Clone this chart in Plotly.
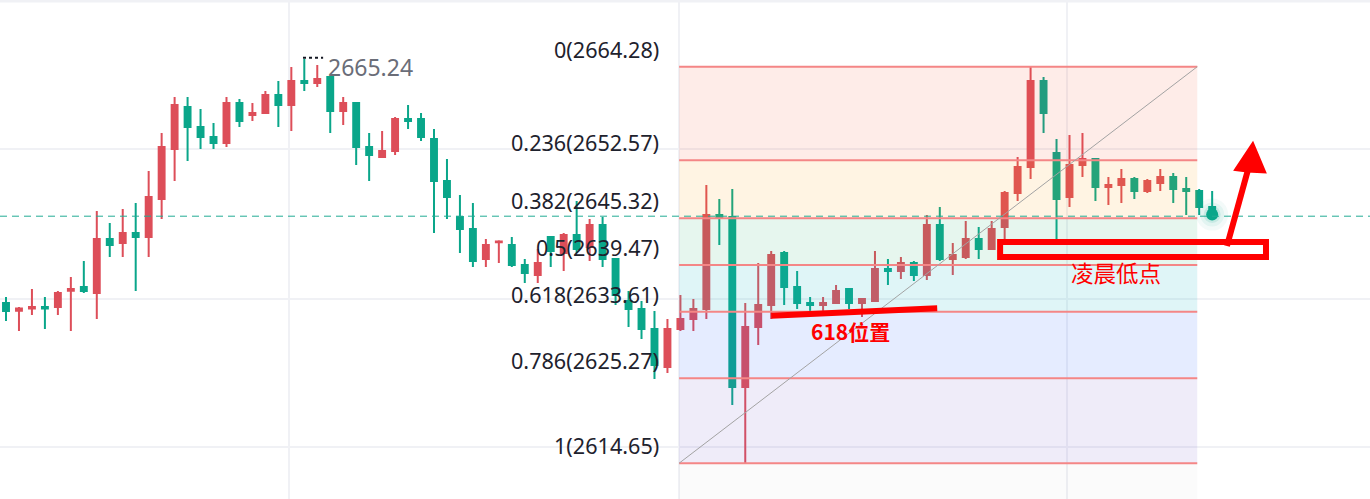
import plotly.graph_objects as go

# ---------------- data ----------------
opens = [2634.71, 2633.74, 2634.00, 2634.21, 2634.21, 2636.25, 2636.71, 2635.96, 2642.72, 2642.22,
         2643.47, 2642.97, 2647.73, 2653.98, 2659.24, 2656.73, 2655.48, 2654.73, 2659.74, 2658.24,
         2658.49, 2660.74, 2659.49, 2662.49, 2662.24, 2662.99, 2658.74, 2659.74, 2654.23, 2652.98,
         2653.73, 2657.74, 2657.74, 2655.23, 2649.98, 2645.47, 2643.97, 2640.22, 2642.30, 2641.97,
         2639.47, 2638.22, 2642.97, 2640.97, 2643.22, 2641.72, 2644.47, 2640.22, 2634.96, 2633.96,
         2631.45, 2626.70, 2631.45, 2632.70, 2633.96, 2645.72, 2645.47, 2624.19, 2631.70, 2634.46,
         2640.97, 2636.71, 2634.71, 2634.46, 2634.71, 2636.46, 2634.71, 2634.96, 2638.97, 2638.72,
         2639.72, 2638.22, 2644.47, 2640.22, 2640.47, 2642.72, 2641.47, 2644.22, 2648.48, 2651.73,
         2662.49, 2653.48, 2647.98, 2651.98, 2652.73, 2649.23, 2649.48, 2650.23, 2648.73, 2649.73,
         2650.48, 2648.98, 2648.73, 2646.72]
highs = [2635.46, 2634.21, 2636.46, 2635.46, 2636.21, 2637.97, 2639.97, 2646.22, 2644.72, 2646.47,
         2647.22, 2651.23, 2655.98, 2660.49, 2660.49, 2658.99, 2657.24, 2660.49, 2660.24, 2659.74,
         2661.24, 2662.49, 2664.24, 2665.24, 2664.49, 2662.99, 2660.49, 2659.74, 2655.98, 2656.23,
         2657.99, 2659.49, 2658.49, 2656.48, 2652.73, 2648.23, 2647.22, 2642.72, 2642.55, 2642.97,
         2640.22, 2641.47, 2642.97, 2643.47, 2647.47, 2645.22, 2645.47, 2640.22, 2636.21, 2634.96,
         2633.70, 2632.70, 2635.71, 2635.21, 2649.48, 2647.73, 2648.98, 2634.71, 2639.72, 2641.22,
         2641.22, 2638.72, 2635.46, 2635.46, 2636.96, 2636.46, 2635.21, 2641.22, 2640.22, 2640.47,
         2639.97, 2645.72, 2646.72, 2642.22, 2644.97, 2644.22, 2644.97, 2648.73, 2652.98, 2664.28,
         2662.99, 2655.23, 2655.73, 2655.98, 2652.73, 2650.48, 2651.48, 2650.48, 2650.23, 2651.48,
         2650.98, 2650.48, 2648.98, 2648.73]
lows = [2632.45, 2631.20, 2633.20, 2631.45, 2633.20, 2631.20, 2635.96, 2632.70, 2640.47, 2640.47,
        2636.21, 2640.47, 2645.22, 2649.98, 2652.48, 2653.98, 2653.98, 2654.23, 2656.73, 2657.49,
        2658.49, 2656.73, 2656.23, 2661.24, 2661.74, 2655.98, 2656.99, 2651.98, 2649.98, 2652.98,
        2653.23, 2656.48, 2654.98, 2643.47, 2645.22, 2640.97, 2639.22, 2639.22, 2639.72, 2639.22,
        2637.21, 2637.21, 2639.22, 2638.72, 2640.97, 2639.97, 2639.22, 2634.46, 2631.70, 2630.20,
        2625.20, 2625.95, 2631.20, 2631.20, 2632.70, 2641.97, 2621.94, 2614.65, 2629.45, 2632.70,
        2634.46, 2633.96, 2633.70, 2633.70, 2634.71, 2633.96, 2632.95, 2634.96, 2636.96, 2637.72,
        2637.46, 2637.59, 2639.97, 2638.22, 2640.22, 2640.22, 2641.47, 2642.72, 2647.47, 2650.23,
        2655.98, 2642.72, 2646.72, 2650.48, 2647.47, 2646.97, 2647.22, 2647.73, 2648.48, 2648.73,
        2647.22, 2645.72, 2645.72, 2645.22]
closes = [2633.70, 2634.00, 2634.21, 2634.00, 2635.96, 2636.46, 2636.21, 2642.72, 2641.97, 2643.47,
          2642.97, 2647.98, 2654.23, 2659.49, 2656.73, 2655.48, 2654.73, 2659.74, 2657.49, 2658.49,
          2660.74, 2659.49, 2662.49, 2662.24, 2662.74, 2658.74, 2659.74, 2654.23, 2653.23, 2653.73,
          2657.74, 2657.49, 2655.48, 2649.98, 2647.98, 2643.97, 2639.97, 2641.97, 2642.40, 2639.47,
          2638.47, 2639.72, 2641.22, 2643.22, 2641.47, 2644.47, 2640.22, 2635.71, 2633.96, 2631.45,
          2626.95, 2631.45, 2632.70, 2633.96, 2645.72, 2645.47, 2624.19, 2631.70, 2634.46, 2640.72,
          2636.71, 2634.71, 2634.46, 2634.71, 2636.21, 2634.71, 2635.21, 2638.97, 2638.72, 2639.72,
          2638.22, 2644.47, 2640.22, 2640.72, 2642.72, 2641.47, 2643.97, 2648.48, 2651.73, 2662.49,
          2658.49, 2647.73, 2651.98, 2652.73, 2649.23, 2649.48, 2650.23, 2648.73, 2649.98, 2650.48,
          2648.98, 2648.73, 2646.72, 2645.47]

fib_high = 2664.28
fib_low = 2614.65
fib_levels = [0, 0.236, 0.382, 0.5, 0.618, 0.786, 1]
fib_extra_level = 1.618
fib_span = [51.9, 91.85]          # candle-index span of the fib drawing
peak_value = 2665.24
grid_x = [21.82, 51.89, 81.8]
grid_prices = [2653.92, 2635.24, 2616.65]

label_618 = "618位置"
label_low = "凌晨低点"

# ---------------- styles ----------------
UP = "#dd4e59"
DN = "#0aa68a"
FIB_LINE = "#f48686"
ZONE_COLORS = [
    "rgba(242,80,50,0.11)",
    "rgba(255,152,0,0.11)",
    "rgba(47,180,113,0.12)",
    "rgba(27,184,198,0.14)",
    "rgba(41,98,255,0.12)",
    "rgba(120,100,205,0.12)",
]

x = list(range(len(opens)))
fig = go.Figure()
fig.add_trace(go.Candlestick(
    x=x, open=opens, high=highs, low=lows, close=closes,
    increasing=dict(line=dict(color=UP, width=2), fillcolor=UP),
    decreasing=dict(line=dict(color=DN, width=2), fillcolor=DN),
    whiskerwidth=0, showlegend=False, hoverinfo="skip",
))

last_x = x[-1]
last_close = closes[-1]
# soft glow dot on the last candle
for sz, col in [(32, "rgba(10,166,138,0.05)"), (24, "rgba(10,166,138,0.07)"),
                (17, "rgba(10,166,138,0.12)"), (12, DN)]:
    fig.add_trace(go.Scatter(x=[last_x], y=[last_close + 0.3], mode="markers",
                             marker=dict(size=sz, color=col, line=dict(width=0)),
                             showlegend=False, hoverinfo="skip"))

rng = fib_high - fib_low
def lvl_price(l):
    return fib_high - l * rng

shapes = []
x0, x1 = fib_span
# zones
for i in range(len(fib_levels) - 1):
    shapes.append(dict(type="rect", xref="x", yref="y", x0=x0, x1=x1,
                       y0=lvl_price(fib_levels[i]), y1=lvl_price(fib_levels[i + 1]),
                       fillcolor=ZONE_COLORS[i], line=dict(width=0), layer="above"))
shapes.append(dict(type="rect", xref="x", yref="y", x0=x0, x1=x1,
                   y0=lvl_price(1), y1=lvl_price(fib_extra_level),
                   fillcolor="rgba(120,123,134,0.03)", line=dict(width=0), layer="above"))
# level lines
for l in fib_levels:
    shapes.append(dict(type="line", xref="x", yref="y", x0=x0, x1=x1,
                       y0=lvl_price(l), y1=lvl_price(l),
                       line=dict(color=FIB_LINE, width=2), layer="above"))
# diagonal
shapes.append(dict(type="line", xref="x", yref="y", x0=x0, x1=x1, y0=fib_low, y1=fib_high,
                   line=dict(color="#a3a3a3", width=1), layer="above"))
# current price dashed line
shapes.append(dict(type="line", xref="paper", yref="y", x0=0, x1=1, y0=last_close + 0.1, y1=last_close + 0.1,
                   line=dict(color="#22ab94", width=1, dash="7px,5px"), layer="above"))
# top border
shapes.append(dict(type="line", xref="paper", yref="paper", x0=0, x1=1, y0=0.998, y1=0.998,
                   line=dict(color="#f0f1f5", width=3), layer="above"))
# peak marker dotted line
peak_idx = highs.index(max(highs))
shapes.append(dict(type="line", xref="x", yref="y", x0=peak_idx - 0.1, x1=peak_idx + 1.45,
                   y0=peak_value + 0.15, y1=peak_value + 0.15,
                   line=dict(color="#131722", width=2, dash="dot"), layer="above"))
# hand-drawn red marks
shapes.append(dict(type="line", xref="x", yref="y", x0=59.0, x1=71.8, y0=2633.1, y1=2634.05,
                   line=dict(color="#ff0000", width=6), layer="above"))
shapes.append(dict(type="rect", xref="x", yref="y", x0=76.65, x1=97.15, y0=2640.47, y1=2642.35,
                   line=dict(color="#ff0000", width=6), fillcolor="rgba(0,0,0,0)", layer="above"))
shapes.append(dict(type="line", xref="x", yref="y", x0=94.14, x1=95.75, y0=2641.84, y1=2651.3,
                   line=dict(color="#ff0000", width=6), layer="above"))
shapes.append(dict(type="path", xref="x", yref="y",
                   path="M 96.14 2654.75 L 94.75 2651.35 L 95.7 2651.15 L 97.1 2651.05 Z",
                   fillcolor="#ff0000", line=dict(color="#ff0000", width=2), layer="above"))

annotations = []
for l in fib_levels:
    p = lvl_price(l)
    annotations.append(dict(x=50.5, y=p, xref="x", yref="y", text=f"{l:g}({p + 1e-9:.2f})",
                            showarrow=False, xanchor="right", yanchor="bottom", yshift=1,
                            font=dict(family="Noto Sans", size=21.6, color="#1e222d")))
annotations.append(dict(x=peak_idx + 1.65, y=peak_value, xref="x", yref="y", text=f"{peak_value:.2f}",
                        showarrow=False, xanchor="left", yanchor="middle", yshift=-8,
                        font=dict(family="Noto Sans", size=23, color="#6a6d78")))
annotations.append(dict(x=65.1, y=2631.24, xref="x", yref="y", text=f"<b>{label_618}</b>",
                        showarrow=False, xanchor="center", yanchor="middle",
                        font=dict(family="Noto Sans CJK SC", size=21, color="#ff0000")))
annotations.append(dict(x=85.6, y=2638.62, xref="x", yref="y", text=label_low,
                        showarrow=False, xanchor="center", yanchor="middle",
                        font=dict(family="Noto Sans CJK SC", size=22.5, color="#ff0000")))

axis_common = dict(showticklabels=False, ticks="", zeroline=False, showline=False,
                   showgrid=True, gridcolor="#f0f1f5", gridwidth=2)
fig.update_layout(
    width=1370, height=499, autosize=False,
    margin=dict(l=0, r=0, t=0, b=0),
    plot_bgcolor="white", paper_bgcolor="white",
    boxgap=0.35,
    xaxis=dict(range=[-0.463, 105.17], tickvals=grid_x, rangeslider=dict(visible=False), **axis_common),
    yaxis=dict(range=[2610.17, 2672.63], tickvals=grid_prices, **axis_common),
    shapes=shapes, annotations=annotations,
    showlegend=False,
)
fig.write_html("out.html", config={"displayModeBar": False},
               post_script="document.body.style.margin='0';document.body.style.overflow='hidden';")
